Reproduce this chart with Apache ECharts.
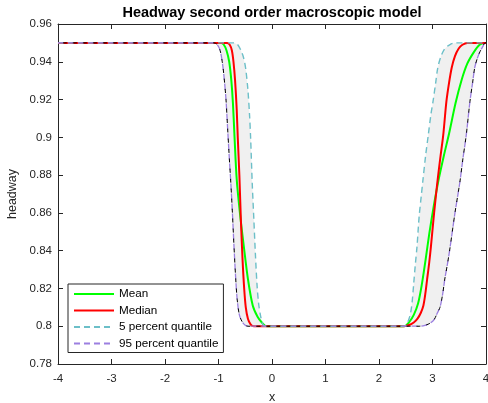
<!DOCTYPE html>
<html>
<head>
<meta charset="utf-8">
<script src="https://cdn.jsdelivr.net/npm/echarts@6/dist/echarts.min.js"></script>
<style>html,body{margin:0;padding:0;background:#fff}#c{width:488px;height:403px}</style>
</head>
<body>
<div id="c"></div>
<script>
const titleText = 'Headway second order macroscopic model';
const xTicks = [-4, -3, -2, -1, 0, 1, 2, 3, 4];
const yTicks = [0.78, 0.8, 0.82, 0.84, 0.86, 0.88, 0.9, 0.92, 0.94, 0.96];
const seriesNames = ['Mean', 'Median', '5 percent quantile', '95 percent quantile'];

const meanData = [[-4,0.95],[-0.95,0.95],[-0.9,0.949],[-0.85,0.946],[-0.8,0.94],[-0.76,0.93],[-0.73,0.918],[-0.7,0.9],[-0.66,0.878],[-0.6,0.86],[-0.53,0.843],[-0.45,0.825],[-0.36,0.811],[-0.27,0.805],[-0.19,0.802],[-0.1,0.8],
  [2.47,0.8],[2.56,0.802],[2.65,0.806],[2.73,0.812],[2.8,0.822],[2.87,0.835],[2.94,0.849],[3.02,0.863],[3.11,0.877],[3.21,0.89],[3.31,0.902],[3.43,0.918],[3.54,0.93],[3.65,0.939],[3.77,0.945],[3.88,0.949],[3.97,0.95],[4,0.95]];

const medianData = [[-4,0.95],[-0.84,0.95],[-0.79,0.949],[-0.75,0.946],[-0.72,0.94],[-0.69,0.93],[-0.66,0.915],[-0.64,0.9],[-0.61,0.88],[-0.58,0.855],[-0.55,0.835],[-0.52,0.82],[-0.49,0.81],[-0.45,0.804],[-0.4,0.801],[-0.34,0.8],
  [2.45,0.8],[2.55,0.8005],[2.65,0.802],[2.72,0.804],[2.78,0.807],[2.83,0.811],[2.87,0.818],[2.9,0.825],[2.94,0.834],[2.97,0.842],[3.03,0.86],[3.09,0.876],[3.15,0.89],[3.2,0.901],[3.26,0.919],[3.31,0.929],[3.36,0.937],[3.42,0.943],[3.49,0.947],[3.56,0.949],[3.65,0.95],[4,0.95]];

const q05Data = [[-4,0.95],[-0.7,0.95],[-0.64,0.949],[-0.58,0.946],[-0.53,0.942],[-0.49,0.936],[-0.45,0.925],[-0.42,0.912],[-0.4,0.9],[-0.37,0.876],[-0.34,0.857],[-0.31,0.838],[-0.28,0.822],[-0.25,0.812],[-0.21,0.805],[-0.17,0.801],[-0.12,0.8],
  [2.45,0.8],[2.5,0.8005],[2.55,0.803],[2.59,0.807],[2.62,0.813],[2.65,0.823],[2.68,0.833],[2.71,0.842],[2.75,0.858],[2.79,0.869],[2.82,0.877],[2.87,0.89],[2.92,0.901],[2.97,0.912],[3.01,0.919],[3.06,0.929],[3.1,0.937],[3.16,0.943],[3.23,0.947],[3.32,0.949],[3.42,0.95],[4,0.95]];

const q95Data = [[-4,0.95],[-1.08,0.95],[-1.02,0.949],[-0.97,0.946],[-0.93,0.94],[-0.9,0.933],[-0.86,0.92],[-0.83,0.905],[-0.8,0.89],[-0.77,0.876],[-0.74,0.86],[-0.71,0.842],[-0.68,0.826],[-0.65,0.814],[-0.61,0.806],[-0.56,0.8025],[-0.5,0.8005],[-0.45,0.8],
  [2.75,0.8],[2.86,0.8005],[2.95,0.8015],[3.03,0.8035],[3.09,0.807],[3.14,0.81],[3.19,0.817],[3.23,0.825],[3.28,0.833],[3.33,0.842],[3.42,0.86],[3.51,0.876],[3.57,0.889],[3.63,0.901],[3.7,0.919],[3.75,0.929],[3.79,0.937],[3.84,0.942],[3.89,0.9455],[3.94,0.948],[3.98,0.95],[4,0.95]];

const AX = '#262626';
const FONT = 'Liberation Sans, Arial, Helvetica, sans-serif';
const chart = echarts.init(document.getElementById('c'), null, {renderer: 'canvas'});

const baseX = {type: 'value', min: xTicks[0], max: xTicks[xTicks.length-1], interval: 1,
  axisLine: {show: true, onZero: false, lineStyle: {color: AX, width: 1}},
  axisTick: {show: true, inside: true, length: 5, lineStyle: {color: AX}},
  splitLine: {show: false}};
const baseY = {type: 'value', min: yTicks[0], max: yTicks[yTicks.length-1], interval: 0.02,
  axisLine: {show: true, onZero: false, lineStyle: {color: AX, width: 1}},
  axisTick: {show: true, inside: true, length: 5, lineStyle: {color: AX}},
  splitLine: {show: false}};

const smoothV = 0.3;
function lineSeries(name, data, color, width, type, z, offset) {
  return {name: name, type: 'line', data: data, xAxisIndex: 0, yAxisIndex: 0,
    showSymbol: false, symbol: 'none', smooth: smoothV, z: z, animation: false,
    lineStyle: {color: color, width: width, type: type, dashOffset: offset || 0},
    itemStyle: {color: color}};
}

chart.setOption({
  animation: false,
  backgroundColor: '#fff',
  title: {text: titleText, left: 272, textAlign: 'center', top: 5, padding: 0,
    textStyle: {fontFamily: FONT, fontSize: 14.5, fontWeight: 'bold', color: '#000'}},
  grid: {left: 58, right: 2, top: 24, bottom: 39, containLabel: false, outerBoundsMode: 'none'},
  legend: {orient: 'vertical', left: 68, top: 284, data: seriesNames,
    itemWidth: 40, itemHeight: 12, itemGap: 4.5, padding: [4, 5, 3, 5],
    itemStyle: {opacity: 0},
    backgroundColor: '#fff', borderColor: AX, borderWidth: 1, borderRadius: 0,
    textStyle: {fontFamily: FONT, fontSize: 11.7, color: '#000'}},
  xAxis: [
    Object.assign({}, baseX, {position: 'bottom', name: 'x', nameLocation: 'middle', nameGap: 27,
      nameTextStyle: {fontFamily: FONT, fontSize: 12.5, color: AX},
      axisLabel: {fontFamily: FONT, fontSize: 11.5, color: AX, margin: 9}}),
    Object.assign({}, baseX, {position: 'top', axisLabel: {show: false}})
  ],
  yAxis: [
    Object.assign({}, baseY, {position: 'left', name: 'headway', nameLocation: 'middle', nameGap: 34,
      nameTextStyle: {fontFamily: FONT, fontSize: 12.5, color: AX},
      axisLabel: {fontFamily: FONT, fontSize: 11.5, color: AX, margin: 6}}),
    Object.assign({}, baseY, {position: 'right', axisLabel: {show: false}})
  ],
  series: [
    {type: 'custom', name: 'band', silent: true, z: 1, data: [[0, 0.9]], clip: true,
      renderItem: function (params, api) {
        const pts = q05Data.map(p => api.coord(p)).concat(q95Data.slice().reverse().map(p => api.coord(p)));
        return {type: 'polygon', shape: {points: pts, smooth: 0}, style: {fill: '#f0f0f0', stroke: null}};
      }},
    lineSeries('Mean', meanData, '#00ff00', 2, 'solid', 3),
    lineSeries('Median', medianData, '#ff0000', 2, 'solid', 4),
    lineSeries('5 percent quantile', q05Data, '#6cbfc8', 1.4, [6, 4], 5),
    lineSeries('95 percent quantile', q95Data, '#9b7fe0', 1.3, [6, 4], 6),
    lineSeries('q95edge', q95Data, '#000000', 1, [4, 6], 7, 5)
  ]
});
</script>
</body>
</html>
